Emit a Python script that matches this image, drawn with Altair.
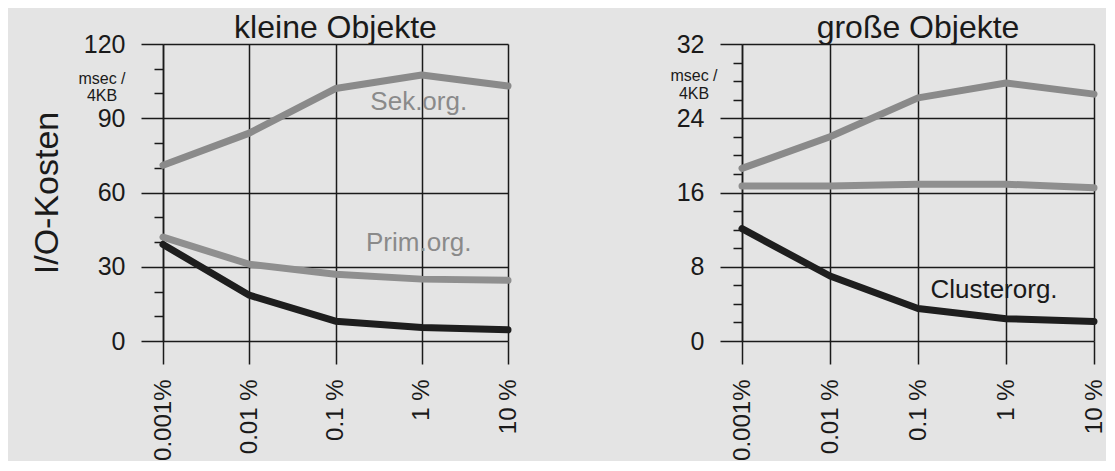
import altair as alt
import pandas as pd

categories = ["0.001%", "0.01 %", "0.1 %", "1 %", "10 %"]

small_sek = [71, 84, 102, 107.5, 103]
small_prim = [42, 31, 27, 25, 24.5]
small_cluster = [39, 18.5, 8, 5.5, 4.5]

large_sek = [18.6, 22, 26.2, 27.8, 26.6]
large_prim = [16.7, 16.7, 16.9, 16.9, 16.5]
large_cluster = [12.1, 7.0, 3.5, 2.4, 2.1]

series_names = ["Sek.org.", "Prim.org.", "Clusterorg."]
series_colors = ["#8a8a8a", "#8f8f8f", "#1e1e1e"]

FONT = "Liberation Sans"
BG = "#e4e4e4"
INK = "#1a1a1a"


def panel(title, sek, prim, cl, ymax, major, minor, ytitle, unit_y, unit_x, labels, label_dx, width):
    rows = []
    for name, vals in zip(series_names, [sek, prim, cl]):
        for c, v in zip(categories, vals):
            rows.append({"cat": c, "val": v, "series": name})
    df = pd.DataFrame(rows)

    x = alt.X("cat:N", sort=categories, scale=alt.Scale(type="point", padding=0),
              axis=alt.Axis(title=None, grid=True, gridColor=INK, gridWidth=1.5,
                            domain=False, tickColor=INK, tickWidth=1.5, tickSize=23,
                            labelAngle=-90, labelAlign="right", labelBaseline="middle",
                            labelFont=FONT, labelFontSize=24, labelColor=INK,
                            labelPadding=15))
    ycond = "datum.value %% %d === 0" % major
    y = alt.Y("val:Q", scale=alt.Scale(domain=[0, ymax], nice=False, zero=True),
              axis=alt.Axis(title=ytitle if ytitle else None,
                            titleFont=FONT, titleFontSize=34, titleFontWeight="normal",
                            titleColor=INK, titlePadding=19,
                            values=list(range(0, ymax + 1, minor)),
                            labelExpr="datum.value %% %d === 0 ? datum.label : ''" % major,
                            labelOverlap=False,
                            labelFont=FONT, labelFontSize=25, labelColor=INK,
                            labelPadding=16,
                            grid=True, gridColor=INK, gridWidth=1.5,
                            gridOpacity={"condition": {"test": ycond, "value": 1}, "value": 0},
                            tickColor=INK, tickWidth=1.5,
                            tickSize={"condition": {"test": ycond, "value": 22}, "value": 9},
                            domainColor=INK, domainWidth=1.5))

    lines = alt.Chart(df).mark_line(strokeWidth=7, strokeCap="round", strokeJoin="round").encode(
        x=x, y=y,
        color=alt.Color("series:N", scale=alt.Scale(domain=series_names, range=series_colors), legend=None),
        detail="series:N",
    )

    lab_df = pd.DataFrame(labels)
    lab = alt.Chart(lab_df).mark_text(font=FONT, fontSize=26, align="center", baseline="middle",
                                      dx=label_dx).encode(
        x=x, y=y,
        color=alt.Color("col:N", scale=None),
        text="txt:N",
    )

    unit_df = pd.DataFrame({"txt": ["msec /", "4KB"], "val": unit_y})
    unit = alt.Chart(unit_df).mark_text(font=FONT, fontSize=16, align="center",
                                        baseline="middle", color=INK, dx=unit_x).encode(
        x=alt.value(0), y=y, text="txt:N")

    return alt.layer(lines, lab, unit).properties(
        width=width, height=297,
        title=alt.TitleParams(title, font=FONT, fontSize=32, fontWeight="normal",
                              color=INK, offset=-13),
    )


left = panel("kleine Objekte", small_sek, small_prim, small_cluster, 120, 30, 10,
             "I/O-Kosten", [106, 99], -61,
             {"cat": ["1 %", "1 %"], "val": [96.5, 39.7], "txt": ["Sek.org.", "Prim.org."],
              "col": ["#8a8a8a", "#8a8a8a"]}, -3, 345)
right = panel("große Objekte", large_sek, large_prim, large_cluster, 32, 8, 2,
              None, [28.5, 26.6], -48,
              {"cat": ["1 %"], "val": [5.5], "txt": ["Clusterorg."], "col": [INK]}, -12, 352)

chart = alt.hconcat(left, right, spacing=150).properties(
    background=BG,
    padding={"left": 22, "top": 4, "right": 0, "bottom": 0},
).configure_view(stroke=None).configure_concat(spacing=150)

chart.save("out.html", embed_options={"renderer": "svg", "actions": False})
